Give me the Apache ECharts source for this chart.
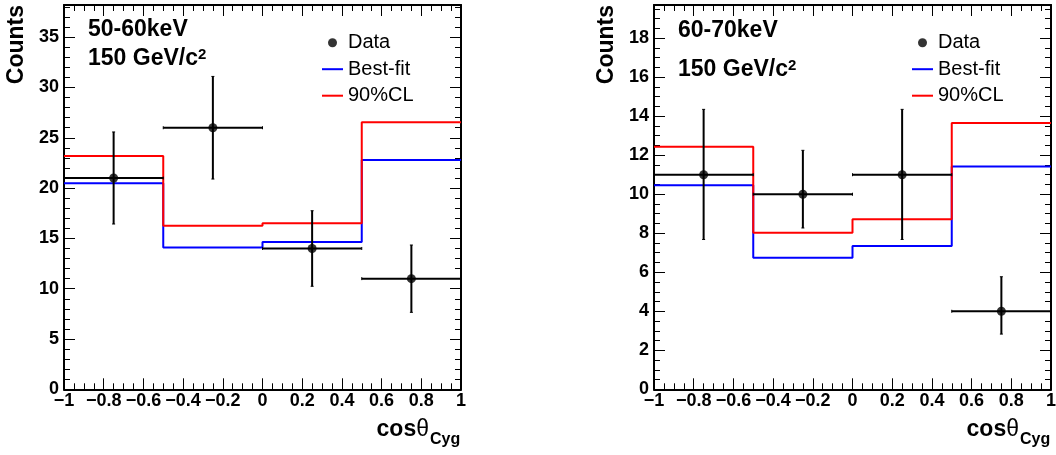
<!DOCTYPE html>
<html><head><meta charset="utf-8">
<script src="https://cdn.jsdelivr.net/npm/echarts@6/dist/echarts.min.js"></script>
<style>html,body{margin:0;padding:0;background:#fff}#c{width:1056px;height:455px}</style>
</head><body><div id="c"></div>
<script>
// ---------------- data ----------------
const binEdges = [-1, -0.5, 0, 0.5, 1];
const dataX = [-0.75, -0.25, 0.25, 0.75];
const xTickStep = 0.2, xMinorStep = 0.05;

// panel 1 : 50-60keV
const p1_data   = [21, 26, 14, 11];
const p1_dataHi = [25.58, 31.10, 17.75, 14.34];
const p1_dataLo = [16.43, 20.90, 10.24, 7.65];
const p1_best   = [20.48, 14.10, 14.64, 22.80];
const p1_cl90   = [23.20, 16.26, 16.50, 26.54];
const p1_yMax = 38.2, p1_yStep = 5, p1_yMinor = 1;

// panel 2 : 60-70keV
const p2_data   = [11, 10, 11, 4];
const p2_dataHi = [14.35, 12.25, 14.35, 5.77];
const p2_dataLo = [7.68, 8.27, 7.68, 2.83];
const p2_best   = [10.46, 6.74, 7.35, 11.42];
const p2_cl90   = [12.44, 8.02, 8.72, 13.65];
const p2_yMax = 19.7, p2_yStep = 2, p2_yMinor = 0.5;

const panelTitles = ['50-60keV', '60-70keV'];
const massLabel = '150 GeV/c';
const legendNames = ['Data', 'Best-fit', '90%CL'];

// ---------------- build ----------------
const FONT = '"Liberation Sans", Arial, Helvetica, sans-serif';
const chart = echarts.init(document.getElementById('c'), null, {renderer: 'canvas'});

const panels = [
  {left: 64, data: p1_data, hi: p1_dataHi, lo: p1_dataLo, best: p1_best, cl: p1_cl90, yMax: p1_yMax, yStep: p1_yStep, yMinor: p1_yMinor, titleY1: 29.5, titleY2: 59},
  {left: 654, data: p2_data, hi: p2_dataHi, lo: p2_dataLo, best: p2_best, cl: p2_cl90, yMax: p2_yMax, yStep: p2_yStep, yMinor: p2_yMinor, titleY1: 30.5, titleY2: 70}
];
const GW = 397, GTOP = 5, GBOT = 389.3;
const LINE_ICON = 'path://M0,0L21,0L21,2L0,2Z';

function fmtX(v) {
  const r = Math.round(v * 10) / 10;
  if (Math.abs(r) < 1e-9) return '0';
  return (r < 0 ? '\u2212' : '') + String(Math.abs(r));
}
function stepData(vals) {
  const d = vals.map((v, i) => [binEdges[i], v]);
  d.push([binEdges[binEdges.length - 1], vals[vals.length - 1]]);
  return d;
}

const grid = [], xAxis = [], yAxis = [], series = [], legend = [], graphic = [];
const tickLine = {color: '#000', width: 1};
const frameLine = {color: '#000', width: 2};

panels.forEach((p, gi) => {
  grid.push({left: p.left, top: GTOP, width: GW, height: GBOT - GTOP, outerBoundsMode: 'none', containLabel: false});
  const xi = xAxis.length, yi = yAxis.length;
  ['bottom', 'top'].forEach(pos => {
    xAxis.push({gridIndex: gi, type: 'value', position: pos, min: -1, max: 1, interval: xTickStep,
      axisLine: {show: true, onZero: false, lineStyle: frameLine},
      axisTick: {show: true, inside: true, length: 11, lineStyle: tickLine},
      axisLabel: {show: pos === 'bottom', margin: 3, fontSize: 18, fontWeight: 'bold', fontFamily: FONT, color: '#000', formatter: fmtX},
      splitLine: {show: false}});
    xAxis.push({gridIndex: gi, type: 'value', position: pos, min: -1, max: 1, interval: xMinorStep,
      axisLine: {show: false, onZero: false},
      axisTick: {show: true, inside: true, length: 6, lineStyle: tickLine},
      axisLabel: {show: false}, splitLine: {show: false}});
  });
  ['left', 'right'].forEach(pos => {
    yAxis.push({gridIndex: gi, type: 'value', position: pos, min: 0, max: p.yMax, interval: p.yStep,
      axisLine: {show: true, onZero: false, lineStyle: frameLine},
      axisTick: {show: true, inside: true, length: 11, lineStyle: tickLine},
      axisLabel: {show: pos === 'left', margin: 5, fontSize: 18, fontWeight: 'bold', fontFamily: FONT, color: '#000',
        formatter: v => (Math.abs(v / p.yStep - Math.round(v / p.yStep)) < 1e-6 ? String(Math.round(v)) : '')},
      splitLine: {show: false}});
    yAxis.push({gridIndex: gi, type: 'value', position: pos, min: 0, max: p.yMax, interval: p.yMinor,
      axisLine: {show: false, onZero: false},
      axisTick: {show: true, inside: true, length: 6, lineStyle: tickLine},
      axisLabel: {show: false}, splitLine: {show: false}});
  });

  series.push({name: 'Best-fit', type: 'line', xAxisIndex: xi, yAxisIndex: yi, step: 'end', data: stepData(p.best),
    symbol: 'none', showSymbol: false, lineStyle: {color: '#0000ff', width: 2}, itemStyle: {color: '#0000ff'}, z: 3, silent: true});
  series.push({name: '90%CL', type: 'line', xAxisIndex: xi, yAxisIndex: yi, step: 'end', data: stepData(p.cl),
    symbol: 'none', showSymbol: false, lineStyle: {color: '#ff0000', width: 2}, itemStyle: {color: '#ff0000'}, z: 4, silent: true});
  series.push({name: 'err' + gi, type: 'custom', xAxisIndex: xi, yAxisIndex: yi, z: 5, silent: true,
    data: dataX.map((x, i) => [x, p.data[i], p.lo[i], p.hi[i], binEdges[i], binEdges[i + 1]]),
    encode: {x: [0, 4, 5], y: [1, 2, 3]},
    renderItem: (params, api) => {
      const x = api.value(0), y = api.value(1);
      const pLo = api.coord([x, api.value(2)]), pHi = api.coord([x, api.value(3)]);
      const pL = api.coord([api.value(4), y]), pR = api.coord([api.value(5), y]);
      const st = {stroke: '#000', lineWidth: 2};
      const cap = 1.5;
      return {type: 'group', children: [
        {type: 'line', shape: {x1: pLo[0], y1: pLo[1], x2: pHi[0], y2: pHi[1]}, style: st},
        {type: 'line', shape: {x1: pL[0], y1: pL[1], x2: pR[0], y2: pR[1]}, style: st},
        {type: 'line', shape: {x1: pLo[0] - cap, y1: pLo[1], x2: pLo[0] + cap, y2: pLo[1]}, style: {stroke: '#000', lineWidth: 1}},
        {type: 'line', shape: {x1: pHi[0] - cap, y1: pHi[1], x2: pHi[0] + cap, y2: pHi[1]}, style: {stroke: '#000', lineWidth: 1}},
        {type: 'line', shape: {x1: pL[0], y1: pL[1] - cap, x2: pL[0], y2: pL[1] + cap}, style: {stroke: '#000', lineWidth: 1}},
        {type: 'line', shape: {x1: pR[0], y1: pR[1] - cap, x2: pR[0], y2: pR[1] + cap}, style: {stroke: '#000', lineWidth: 1}}
      ]};
    }});
  series.push({name: 'Data', type: 'scatter', xAxisIndex: xi, yAxisIndex: yi, symbol: 'circle', symbolSize: 9,
    data: dataX.map((x, i) => [x, p.data[i]]), itemStyle: {color: '#000'}, z: 6, silent: true});

  legend.push({orient: 'vertical', left: p.left + 258, top: 32.7, padding: 0, itemWidth: 21, itemHeight: 9, itemGap: 6.5,
    selectedMode: false,
    textStyle: {fontSize: 20, lineHeight: 20, fontFamily: FONT, color: '#000'},
    data: [{name: legendNames[0], icon: 'circle'},
           {name: legendNames[1], icon: LINE_ICON, itemStyle: {color: '#0000ff'}},
           {name: legendNames[2], icon: LINE_ICON, itemStyle: {color: '#ff0000'}}]});

  graphic.push({type: 'text', x: p.left + 24, y: p.titleY1,
    style: {text: panelTitles[gi], font: 'bold 23px ' + FONT, fill: '#000', align: 'left', verticalAlign: 'middle'}});
  graphic.push({type: 'text', x: p.left + 24, y: p.titleY2,
    style: {text: '{m|' + massLabel + '}{s|2}', align: 'left', verticalAlign: 'middle', fill: '#000',
      rich: {m: {font: 'bold 23px ' + FONT, lineHeight: 24, verticalAlign: 'middle', fill: '#000'},
             s: {font: 'bold 15px ' + FONT, lineHeight: 13, verticalAlign: 'top', fill: '#000'}}}});
  // y title
  graphic.push({type: 'text', x: p.left - 47.3, y: 5, rotation: Math.PI / 2,
    style: {text: 'Counts', font: 'bold 23px ' + FONT, fill: '#000', align: 'right', verticalAlign: 'middle'}});
  // x title
  graphic.push({type: 'text', x: p.left + GW - 32, y: 430,
    style: {text: '{a|cos}{b|\u03b8}', align: 'right', verticalAlign: 'middle', fill: '#000',
      rich: {a: {font: 'bold 23px ' + FONT, fill: '#000'}, b: {font: '23px ' + FONT, fill: '#000'}}}});
  graphic.push({type: 'text', x: p.left + GW - 31, y: 439.4,
    style: {text: 'Cyg', font: 'bold 16px ' + FONT, fill: '#000', align: 'left', verticalAlign: 'middle'}});
});

chart.setOption({animation: false, backgroundColor: '#fff', grid, xAxis, yAxis, series, legend, graphic});
</script></body></html>
